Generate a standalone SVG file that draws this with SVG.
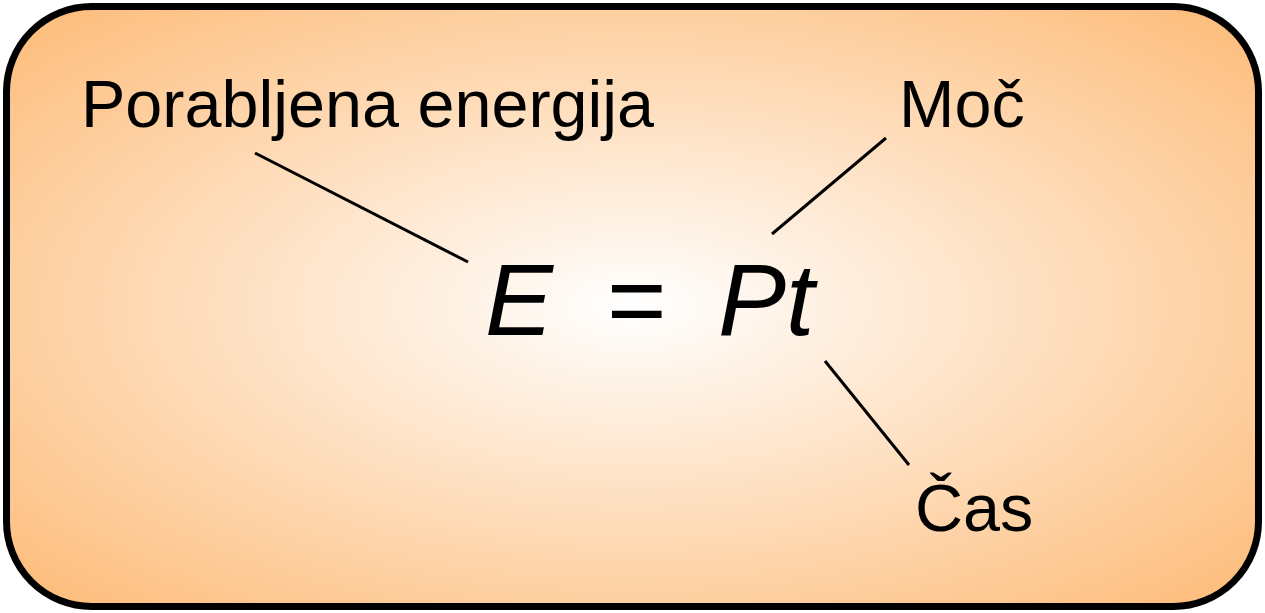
<svg xmlns="http://www.w3.org/2000/svg" width="1265" height="613" viewBox="0 0 1265 613">
<defs>
<radialGradient id="bg" cx="0.5" cy="0.5" r="0.7">
<stop offset="0" stop-color="#ffffff"/>
<stop offset="1" stop-color="#fdbb78"/>
</radialGradient>
<style>
.lbl{font-family:"Liberation Sans",Arial,sans-serif;font-size:66.5px;fill:#000}
.eq{font-family:"Liberation Sans",Arial,sans-serif;font-size:102px;font-style:italic;fill:#000}
.eqn{font-family:"Liberation Sans",Arial,sans-serif;font-size:102px;fill:#000}
.con{stroke:#000;stroke-width:3;fill:none}
</style>
</defs>
<g id="frame">
<rect x="6.5" y="6.5" width="1252" height="600" rx="85" ry="85" fill="url(#bg)" stroke="#000" stroke-width="7"/>
</g>
<g id="connectors">
<line class="con" x1="255" y1="153" x2="468" y2="262"/>
<line class="con" x1="772" y1="234" x2="886" y2="138"/>
<line class="con" x1="825" y1="361" x2="909" y2="465"/>
</g>
<g id="equation">
<text class="eq" x="485" y="335">E</text>
<text class="eqn" x="607" y="335">=</text>
<text class="eq" x="718" y="335">Pt</text>
</g>
<g id="label-energy"><text class="lbl" x="81" y="127">Porabljena energija</text></g>
<g id="label-power"><text class="lbl" x="899" y="127">Moč</text></g>
<g id="label-time"><text class="lbl" x="915" y="531">Čas</text></g>
</svg>
